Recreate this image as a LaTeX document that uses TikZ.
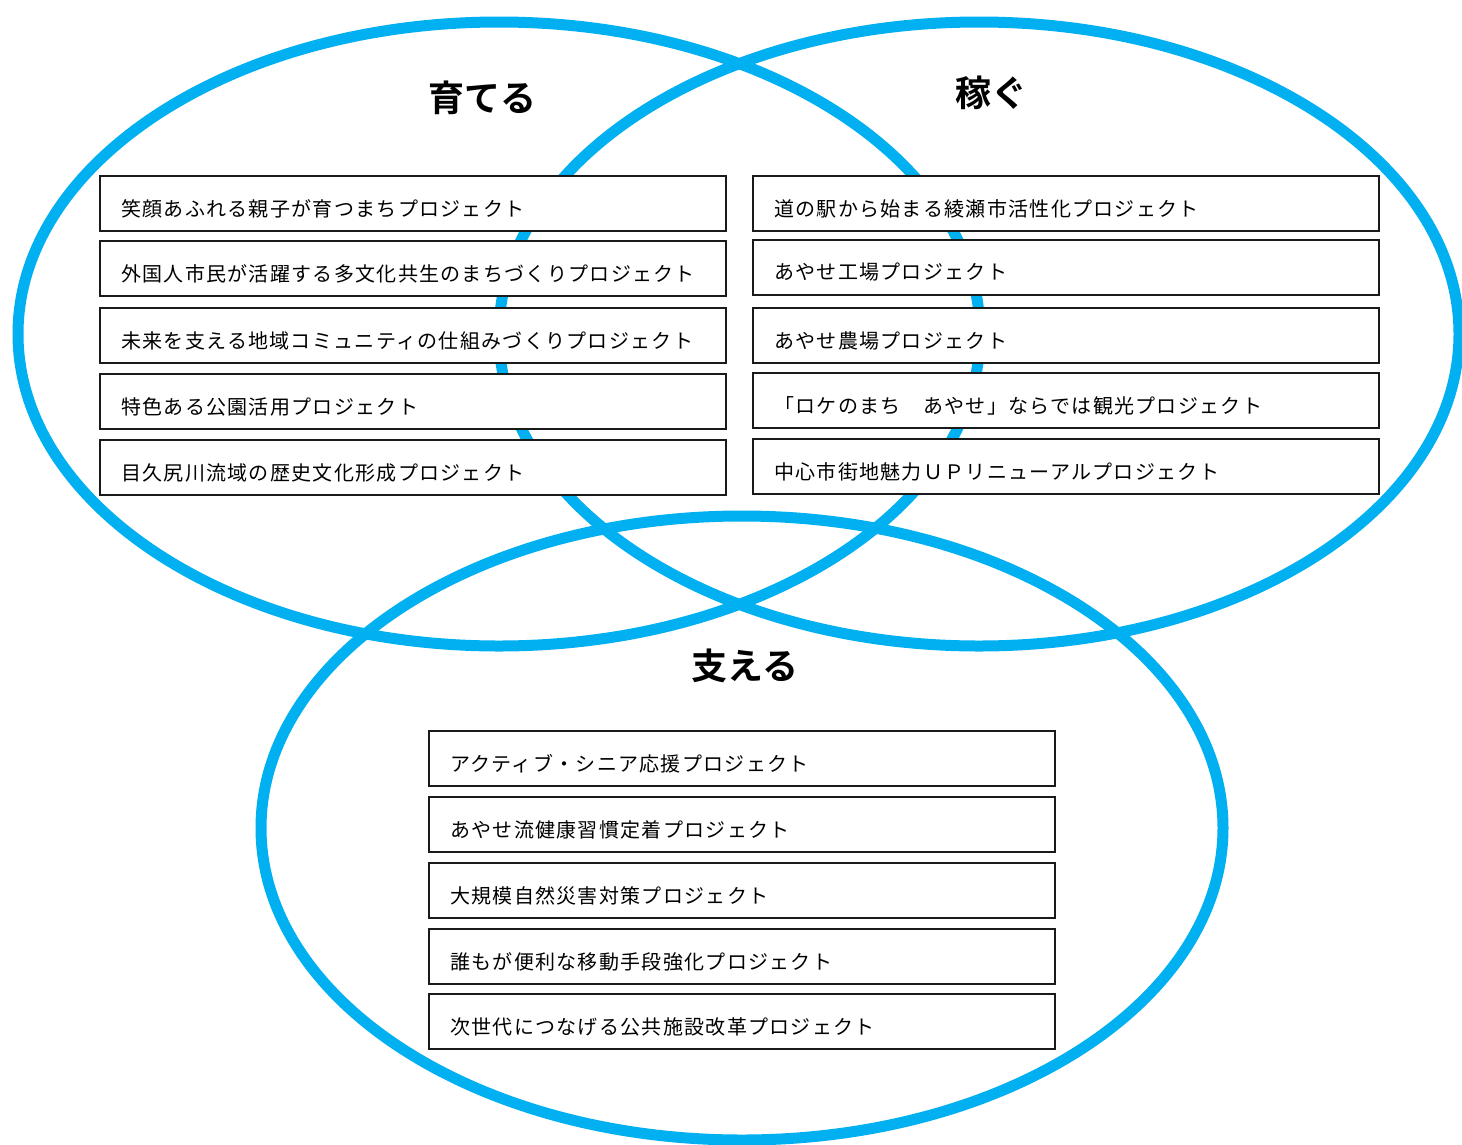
\documentclass[tikz,border=0pt]{standalone}
\usepackage{fontspec}
\newfontfamily\jp[LetterSpace=6.5]{Noto Sans CJK JP}
\newfontfamily\jpb{Noto Sans CJK JP Bold}
\definecolor{vennblue}{HTML}{00B0F0}
\definecolor{boxline}{HTML}{1A1A1A}
\tikzset{
  venn/.style={draw=vennblue, line width=11pt},
  projbox/.style={draw=boxline, line width=2.2pt, fill=white, anchor=north west,
    minimum width=626pt, minimum height=55pt, inner sep=0pt, outer sep=0pt},
  projtext/.style={anchor=west, inner sep=0pt, font=\jp\fontsize{20}{23}\selectfont, text=black},
  ttl/.style={font=\jpb\fontsize{36}{42}\selectfont, text=black, inner sep=0pt}
}
\newcommand{\pbox}[4]{%
  \node[projbox] (#1) at (#2,#3) {};
  \node[projtext] (#1t) at ([xshift=21pt,yshift=-5pt]#1.west) {#4};
}
\begin{document}
\begin{tikzpicture}[x=1pt,y=-1pt]
\useasboundingbox (0,0) rectangle (1462,1144);
\fill[white] (0,0) rectangle (1462,1144);
\begin{scope}
\clip (0,0) rectangle (1462,1144);
\draw[venn] (499,334) ellipse [x radius=481pt, y radius=312pt];
\draw[venn] (979,334) ellipse [x radius=480pt, y radius=312pt];
\draw[venn] (742,828) ellipse [x radius=481pt, y radius=312pt];
\end{scope}
\node[ttl] (t1) at (482,98) {育てる};
\node[ttl] (t2) at (991,93) {稼ぐ};
\node[ttl] (t3) at (745,666) {支える};
% left column
\pbox{a1}{100}{176}{笑顔あふれる親子が育つまちプロジェクト}
\pbox{a2}{100}{241}{外国人市民が活躍する多文化共生のまちづくりプロジェクト}
\pbox{a3}{100}{308}{未来を支える地域コミュニティの仕組みづくりプロジェクト}
\pbox{a4}{100}{374}{特色ある公園活用プロジェクト}
\pbox{a5}{100}{440}{目久尻川流域の歴史文化形成プロジェクト}
% right column
\pbox{b1}{753}{176}{道の駅から始まる綾瀬市活性化プロジェクト}
\pbox{b2}{753}{240}{あやせ工場プロジェクト}
\pbox{b3}{753}{308}{あやせ農場プロジェクト}
\pbox{b4}{753}{373}{「ロケのまち　あやせ」ならでは観光プロジェクト}
\pbox{b5}{753}{439}{中心市街地魅力ＵＰリニューアルプロジェクト}
% bottom column
\pbox{c1}{429}{731}{アクティブ・シニア応援プロジェクト}
\pbox{c2}{429}{797}{あやせ流健康習慣定着プロジェクト}
\pbox{c3}{429}{863}{大規模自然災害対策プロジェクト}
\pbox{c4}{429}{929}{誰もが便利な移動手段強化プロジェクト}
\pbox{c5}{429}{994}{次世代につなげる公共施設改革プロジェクト}
\end{tikzpicture}
\end{document}
